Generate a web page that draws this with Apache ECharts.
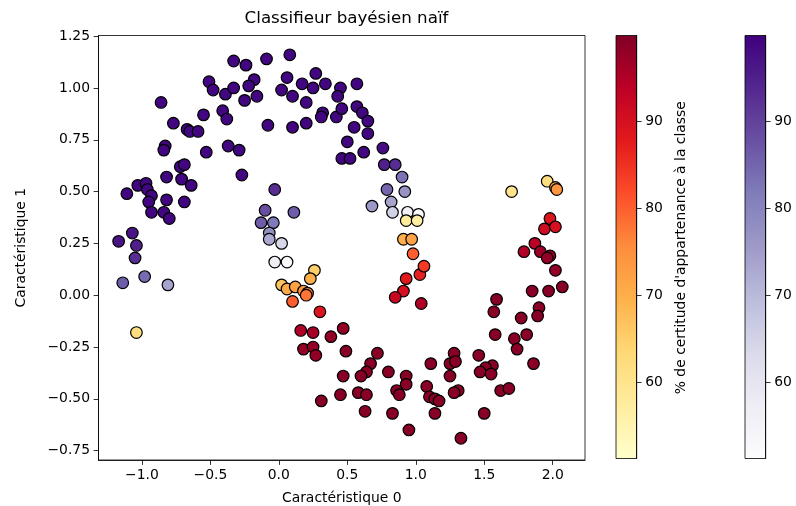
<!DOCTYPE html>
<html>
<head>
<meta charset="utf-8">
<title>Classifieur bayésien naïf</title>
<script src="https://cdn.jsdelivr.net/npm/echarts@6/dist/echarts.min.js"></script>
<style>
  html, body { margin: 0; padding: 0; background: #fff; }
  #chart { width: 796px; height: 506px; }
</style>
</head>
<body>
<div id="chart"></div>
<script>
// Classe 0 (violet) : coordonnées et % de certitude
var class0X = [-0.33, -0.24, -0.18, -0.51, -0.48, -0.39, -0.33, -0.22, -0.16, -0.25,
  -0.86, -0.55, -0.41, -0.38, -0.77, -0.67, -0.65, -0.59, -0.83, -0.84,
  -0.53, -0.37, -0.29, -0.27, -0.72, -0.69, -0.82, -0.71, -0.64, -1.03,
  -0.97, -0.96, -1.11, -0.93, -0.95, -0.82, -0.69, -0.93, -0.84, -0.80,
  -1.07, -1.17, -1.04, -1.05, -1.14, -0.98, -0.81,
  -0.09, 0.08, 0.06, 0.02, 0.10, 0.17, 0.27, 0.25, 0.34, 0.20,
  0.45, 0.43, 0.57, 0.32, 0.31, 0.42, 0.46, 0.57, 0.61, 0.65,
  -0.08, 0.10, 0.20, 0.55, 0.65, 0.50, 0.46, 0.52, 0.62, 0.76,
  0.77, 0.85, 0.90, 0.79, 0.92, 0.82, 0.68, 0.83, 0.94, 1.02,
  -0.03, -0.10, 0.11, -0.13, -0.04, -0.07, -0.07, 0.02, -0.03, 0.06];
var class0Y = [1.13, 1.11, 1.04, 1.03, 0.99, 0.97, 1.00, 1.01, 0.96, 0.94,
  0.93, 0.87, 0.89, 0.85, 0.83, 0.80, 0.79, 0.79, 0.72, 0.70,
  0.69, 0.72, 0.70, 0.58, 0.62, 0.63, 0.57, 0.56, 0.53, 0.53,
  0.54, 0.51, 0.49, 0.48, 0.45, 0.46, 0.45, 0.40, 0.40, 0.37,
  0.30, 0.26, 0.24, 0.18, 0.06, 0.09, 0.05,
  1.14, 1.16, 1.05, 0.99, 0.96, 1.02, 1.07, 1.00, 1.02, 0.93,
  1.00, 0.96, 1.02, 0.88, 0.86, 0.86, 0.90, 0.91, 0.88, 0.84,
  0.82, 0.81, 0.83, 0.81, 0.78, 0.74, 0.66, 0.66, 0.69, 0.71,
  0.63, 0.63, 0.57, 0.51, 0.50, 0.45, 0.43, 0.40, 0.40, 0.39,
  0.51, 0.41, 0.40, 0.35, 0.35, 0.30, 0.27, 0.25, 0.16, 0.16];
var class0Pct = [99, 99, 99, 99, 99, 99, 99, 99, 99, 99,
  99, 99, 99, 99, 99, 99, 99, 99, 99, 99,
  99, 99, 99, 99, 99, 99, 99, 99, 99, 99,
  99, 99, 99, 99, 99, 99, 99, 99, 99, 99,
  97, 97, 95, 93, 86, 84, 74,
  99, 99, 99, 99, 99, 99, 99, 99, 99, 99,
  99, 99, 99, 99, 99, 99, 99, 99, 99, 99,
  99, 99, 99, 99, 99, 99, 99, 99, 99, 98,
  95, 93, 83, 85, 77, 74, 76, 65, 55, 52,
  93, 88, 86, 86, 82, 78, 73, 64, 57, 52];

// Classe 1 (jaune-rouge) : coordonnées et % de certitude
var class1X = [0.93, 1.01, 0.91, 0.97, 1.70, 1.96, 2.02, 2.03, 1.98, 1.94,
  2.02, 1.87, 0.98, 0.26, 0.23, 0.02, 0.06, 0.12, 0.18, 0.21,
  0.20, 0.10, 0.93, 0.91, 0.85, 1.03, 1.06, 1.04, 0.30, 0.16,
  0.25, 0.38, 0.47, 0.18, 0.25, 0.27, 0.49, 0.72, 0.67, 0.64,
  0.60, 0.80, 0.47, 0.93, 0.93, 0.86, 0.88, 0.58, 0.64, 0.45,
  0.31, 0.63, 0.83, 0.95,
  1.79, 1.91, 1.98, 1.96, 2.02, 1.85, 1.97, 2.07, 1.59, 1.57,
  1.90, 1.89, 1.77, 1.58, 1.81, 1.72, 1.74, 1.28, 1.46, 1.11,
  1.25, 1.29, 1.56, 1.51, 1.47, 1.55, 1.86, 1.25, 1.08, 1.10,
  1.14, 1.17, 1.31, 1.28, 1.62, 1.68, 1.14, 1.50, 1.33, -1.04];
var class1Y = [0.36, 0.36, 0.27, 0.27, 0.50, 0.55, 0.52, 0.51, 0.37, 0.32,
  0.33, 0.25, 0.20, 0.12, 0.08, 0.05, 0.03, 0.04, 0.02, 0.01,
  0.00, -0.03, 0.08, 0.02, -0.01, 0.10, 0.14, -0.04, -0.08, -0.17,
  -0.18, -0.20, -0.16, -0.26, -0.25, -0.29, -0.27, -0.28, -0.33, -0.37,
  -0.39, -0.37, -0.39, -0.39, -0.43, -0.46, -0.48, -0.47, -0.48, -0.48,
  -0.51, -0.56, -0.57, -0.65,
  0.21, 0.21, 0.19, 0.18, 0.12, 0.02, 0.02, 0.04, -0.02, -0.08,
  -0.06, -0.10, -0.11, -0.19, -0.19, -0.21, -0.26, -0.28, -0.29, -0.33,
  -0.33, -0.32, -0.34, -0.35, -0.37, -0.38, -0.33, -0.39, -0.44, -0.49,
  -0.50, -0.51, -0.46, -0.47, -0.46, -0.45, -0.57, -0.57, -0.69, -0.18];
var class1Pct = [58, 57, 70, 72, 60, 62, 72, 74, 89, 91,
  90, 94, 80, 65, 70, 67, 71, 72, 74, 76,
  78, 80, 88, 90, 92, 87, 84, 95, 89, 95,
  96, 98, 98, 98, 98, 98, 99, 99, 99, 99,
  99, 99, 99, 99, 99, 99, 99, 99, 99, 99,
  99, 99, 99, 99,
  95, 97, 98, 98, 98, 99, 99, 99, 99, 99,
  99, 99, 99, 99, 99, 99, 99, 99, 99, 99,
  99, 99, 99, 99, 99, 99, 99, 99, 99, 99,
  99, 99, 99, 99, 99, 99, 99, 99, 99, 62];

// Graduations
var xTicks = [-1.0, -0.5, 0.0, 0.5, 1.0, 1.5, 2.0];
var yTicks = [-0.75, -0.5, -0.25, 0.0, 0.25, 0.5, 0.75, 1.0, 1.25];
var cbarTicks = [60, 70, 80, 90];
var pctMin = 51.2, pctMax = 99.9;

// Palettes matplotlib
var purples = ['#fcfbfd', '#efedf5', '#dadaeb', '#bcbddc', '#9e9ac8', '#807dba', '#6a51a3', '#54278f', '#3f007d'];
var ylOrRd = ['#ffffcc', '#ffeda0', '#fed976', '#feb24c', '#fd8d3c', '#fc4e2a', '#e31a1c', '#bd0026', '#800026'];

var FONT = 'DejaVu Sans';
var FS = 13.9;

function minus(s) { return s.replace('-', '\u2212'); }

function gradient(colors) {
  var stops = colors.map(function (c, i) {
    return { offset: i / (colors.length - 1), color: c };
  });
  return new echarts.graphic.LinearGradient(0, 1, 0, 0, stops);
}

function points(xs, ys, ps) {
  return xs.map(function (x, i) { return [x, ys[i], ps[i]]; });
}

var tickStyle = { show: true, inside: false, length: 4.9, lineStyle: { color: '#000', width: 0.8 } };
var labelStyle = { color: '#000', fontFamily: FONT, fontSize: FS, margin: 8.5 };
var axisLine = { show: true, onZero: false, lineStyle: { color: '#000', width: 0.8 } };

function cbarAxes(idx) {
  return {
    x: { gridIndex: idx, type: 'value', show: false, min: 0, max: 1 },
    y: {
      gridIndex: idx, type: 'value', position: 'right',
      min: pctMin, max: pctMax,
      axisLine: axisLine,
      splitLine: { show: false },
      axisTick: Object.assign({ customValues: cbarTicks }, tickStyle),
      axisLabel: Object.assign({ customValues: cbarTicks }, labelStyle)
    }
  };
}

var cb1 = cbarAxes(1), cb2 = cbarAxes(2);

var chart = echarts.init(document.getElementById('chart'), null, { renderer: 'canvas' });

var option = {
  animation: false,
  backgroundColor: '#fff',
  textStyle: { fontFamily: FONT },
  title: {
    text: 'Classifieur bayésien naïf',
    left: 341.5, top: 5, textAlign: 'center',
    textStyle: { fontFamily: FONT, fontSize: 16.7, fontWeight: 'normal', color: '#000' }
  },
  grid: [
    { left: 98.5, top: 35.5, width: 486.5, height: 424.5, show: true, outerBoundsMode: 'none',
      borderColor: '#000', borderWidth: 0.8, backgroundColor: '#fff' },
    { left: 616, top: 35.5, width: 20.7, height: 423, show: true, outerBoundsMode: 'none',
      borderColor: '#000', borderWidth: 0.8, backgroundColor: gradient(ylOrRd) },
    { left: 745, top: 35.5, width: 20.7, height: 423, show: true, outerBoundsMode: 'none',
      borderColor: '#000', borderWidth: 0.8, backgroundColor: gradient(purples) }
  ],
  xAxis: [
    {
      gridIndex: 0, type: 'value', position: 'bottom', min: -1.317, max: 2.236,
      name: 'Caractéristique 0', nameLocation: 'middle', nameGap: 31,
      nameTextStyle: { fontFamily: FONT, fontSize: FS, color: '#000' },
      axisLine: axisLine,
      splitLine: { show: false },
      axisTick: Object.assign({ customValues: xTicks }, tickStyle),
      axisLabel: Object.assign({
        customValues: xTicks,
        formatter: function (v) { return minus(v.toFixed(1)); }
      }, labelStyle)
    },
    cb1.x, cb2.x
  ],
  yAxis: [
    {
      gridIndex: 0, type: 'value', position: 'left', min: -0.795, max: 1.253,
      axisLine: axisLine,
      splitLine: { show: false },
      axisTick: Object.assign({ customValues: yTicks }, tickStyle),
      axisLabel: Object.assign({
        customValues: yTicks,
        formatter: function (v) { return minus(v.toFixed(2)); }
      }, labelStyle)
    },
    cb1.y, cb2.y
  ],
  visualMap: [
    { type: 'continuous', show: false, seriesIndex: 0, dimension: 2,
      min: pctMin, max: pctMax, inRange: { color: purples } },
    { type: 'continuous', show: false, seriesIndex: 1, dimension: 2,
      min: pctMin, max: pctMax, inRange: { color: ylOrRd } }
  ],
  graphic: [
    { type: 'text', x: 21.7, y: 247.7, rotation: Math.PI / 2,
      style: { text: 'Caractéristique 1', fontFamily: FONT, fontSize: FS, fill: '#000',
               textAlign: 'center', textVerticalAlign: 'middle' } },
    { type: 'text', x: 681, y: 247.7, rotation: Math.PI / 2,
      style: { text: "% de certitude d'appartenance à la classe", fontFamily: FONT, fontSize: FS, fill: '#000',
               textAlign: 'center', textVerticalAlign: 'middle' } }
  ],
  series: [
    {
      name: 'classe 0', type: 'scatter', xAxisIndex: 0, yAxisIndex: 0,
      symbol: 'circle', symbolSize: 11.6,
      itemStyle: { borderColor: '#000', borderWidth: 1.2, opacity: 1 },
      data: points(class0X, class0Y, class0Pct)
    },
    {
      name: 'classe 1', type: 'scatter', xAxisIndex: 0, yAxisIndex: 0,
      symbol: 'circle', symbolSize: 11.6,
      itemStyle: { borderColor: '#000', borderWidth: 1.2, opacity: 1 },
      data: points(class1X, class1Y, class1Pct)
    }
  ]
};

chart.setOption(option);

window.addEventListener('resize', function () {
  chart.resize();
});
</script>
</body>
</html>
